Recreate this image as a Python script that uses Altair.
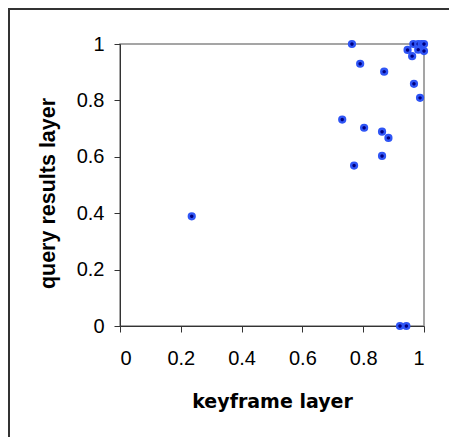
import altair as alt
import pandas as pd

keyframe = [0.763, 0.790, 0.869, 0.731, 0.803, 0.862, 0.883, 0.862, 0.770, 0.236,
            0.921, 0.942, 0.946, 0.961, 0.967, 0.987, 0.965, 0.981, 0.992, 1.0,
            0.981, 1.0]
query = [1.0, 0.930, 0.902, 0.732, 0.703, 0.689, 0.667, 0.603, 0.569, 0.389,
         0.0, 0.0, 0.979, 0.957, 0.859, 0.809, 1.0, 1.0, 1.0, 1.0,
         0.980, 0.975]

df = pd.DataFrame({"keyframe": keyframe, "query": query})

ticks = [0, 0.2, 0.4, 0.6, 0.8, 1]

points = alt.Chart(df).mark_point(
    filled=True, shape="circle", size=34, fill="#000080",
    stroke="#2f55f5", strokeWidth=2.4, opacity=1
).encode(
    x=alt.X("keyframe:Q", scale=alt.Scale(domain=[0, 1], nice=False),
            axis=alt.Axis(title="keyframe layer", values=ticks, format="~g",
                          grid=False, domainColor="#333", tickColor="#333",
                          tickSize=6, labelPadding=16,
                          labelFont="Liberation Sans", labelFontSize=20,
                          labelColor="#000",
                          titleFont="DejaVu Sans", titleFontWeight="bold",
                          titleFontSize=19, titleColor="#000",
                          titleX=152, titleY=81, titleBaseline="alphabetic",
                          titleAlign="center")),
    y=alt.Y("query:Q", scale=alt.Scale(domain=[0, 1], nice=False),
            axis=alt.Axis(title="query results layer", values=ticks, format="~g",
                          grid=False, domainColor="#333", tickColor="#333",
                          tickSize=6, labelPadding=10,
                          labelFont="Liberation Sans", labelFontSize=20,
                          labelColor="#000",
                          titleFont="Liberation Sans", titleFontWeight="bold",
                          titleFontSize=21.5, titleColor="#000",
                          titleAngle=270, titleX=-72, titleY=149,
                          titleBaseline="middle", titleAlign="center")),
)

frame_top = alt.Chart(df).mark_rule(color="#333", strokeWidth=2).encode(
    x=alt.value(-112), x2=alt.value(330), y=alt.value(-35)
)
frame_left = alt.Chart(df).mark_rule(color="#333", strokeWidth=2).encode(
    x=alt.value(-111), y=alt.value(-36), y2=alt.value(400)
)

chart = alt.layer(frame_top, frame_left, points).properties(
    width=304, height=282,
    autosize=alt.AutoSizeParams(type="none"),
    padding={"left": 112, "top": 36, "right": 25, "bottom": 111},
    background="white",
).configure_view(stroke="#888", strokeWidth=1.5)

chart.save("out.html", embed_options={"renderer": "svg", "actions": False})
